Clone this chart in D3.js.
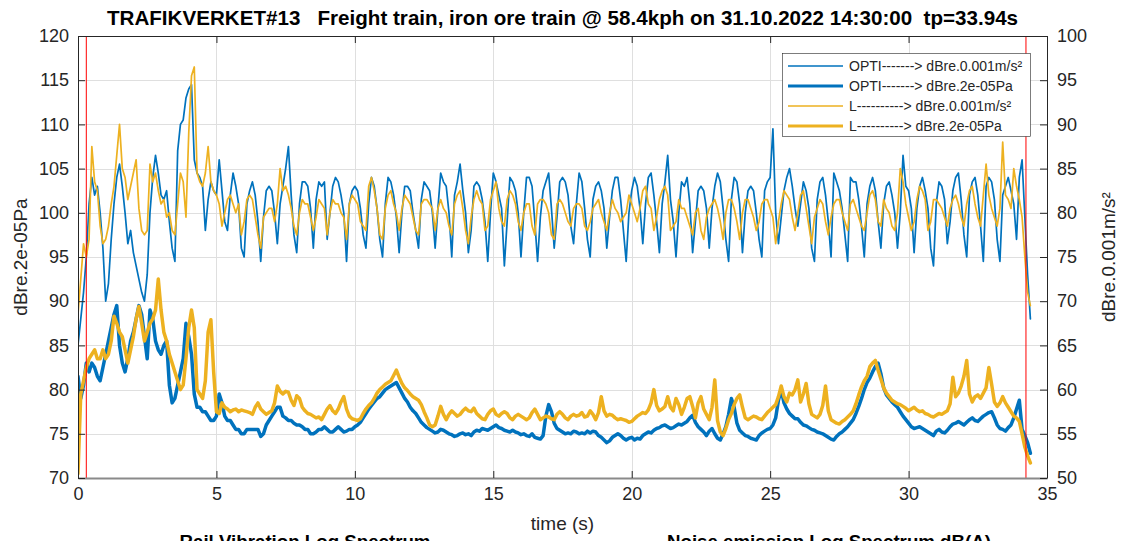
<!DOCTYPE html>
<html>
<head>
<meta charset="utf-8">
<script src="https://cdn.jsdelivr.net/npm/d3@7"></script>
<style>
  body { margin: 0; background: #fff; }
  text { font-family: "Liberation Sans", Arial, Helvetica, sans-serif; }
</style>
</head>
<body>
<svg id="chart" width="1124" height="541"></svg>
<script>
// Sampling interval of the level time histories (s)
const sampleStep = 0.1;

// OPTI rail vibration level, dB re 0.001 m/s² (right axis)
const vibOpti = [
  65, 68, 71, 75, 81, 84, 82, 83, 80, 76,
  70, 72, 77, 81, 84, 85.5, 83, 80, 76.5, 78,
  75.5, 74, 72.5, 71, 70, 73, 80, 84, 86.5, 84.5,
  82, 81.5, 82.5, 79, 76, 74.5, 87, 90, 90.5, 93,
  94, 94.5, 86, 84.5, 84, 83, 78, 81.5, 83.5, 82.5,
  82, 86, 82.5, 79, 78, 82, 84.5, 83, 81, 76,
  75, 81, 82.5, 83.5, 82, 79, 74.5, 79.5, 82.5, 83,
  82.5, 80, 76.5, 81, 83, 85, 87.5, 82, 77.5, 75.5,
  81, 83.5, 83.5, 83, 80.5, 76, 81.5, 83.5, 83, 83.5,
  77, 80, 83, 84, 83.5, 82, 80, 74.5, 81, 82.5,
  83, 82.5, 80.5, 77.5, 76, 81, 84, 83, 80.5, 77,
  75, 81, 84, 83.5, 82, 79.5, 75.5, 80, 83, 83,
  82.5, 80, 78, 76, 81.5, 83.5, 83, 82.5, 80, 76,
  80.5, 84.5, 83.5, 83, 80, 75, 82, 83.5, 85.5, 82.5,
  80, 75.5, 78, 83, 83.5, 83, 81.5, 79, 74.5, 80,
  84.5, 83.5, 82, 80.5, 74, 79, 84, 83.5, 82.5, 80,
  75, 80, 84, 84, 83, 79, 74.5, 79.5, 82.5, 83.5,
  84.5, 80.5, 76, 79.5, 83.5, 84, 83.5, 82, 78.5, 76.5,
  81, 84.5, 83.5, 80.5, 77, 75, 81.5, 83, 83.5, 82.5,
  80.5, 76, 79.5, 82.5, 84, 84, 81.5, 78, 74.5, 80,
  82.5, 84, 83, 80.5, 76.5, 81, 84, 84.5, 82, 79,
  75.5, 81, 83.5, 86.5, 81.5, 79, 75, 80, 83.5, 83,
  84, 81, 75.5, 79, 82.5, 83, 82.5, 80.5, 76, 80.5,
  83, 84.5, 83.5, 80.5, 77, 74.5, 81.5, 84, 83.5, 81,
  75.5, 80, 82.5, 83, 82.5, 80, 77, 75, 82.5, 83.5,
  84, 89.5, 80, 76.5, 79.5, 82.5, 84, 85, 83, 80.5,
  78.5, 81, 83.5, 82.5, 80.5, 76, 74.5, 81.5, 83.5, 84,
  82, 79, 75, 84.5, 83.5, 82.5, 80.5, 77.5, 74.5, 84,
  83.5, 83.5, 81.5, 78.5, 75, 81, 83, 84, 82.5, 79,
  76, 81, 83, 83.5, 82, 80, 76, 80, 86.5, 83,
  82.5, 80.5, 75.5, 80.5, 83, 84, 82.5, 80.5, 76, 74,
  81, 83.5, 83, 81.5, 76.5, 79, 82.5, 84, 84.5, 81.5,
  77.5, 75, 82, 83.5, 84, 82, 78.5, 74.5, 83, 84,
  83.5, 81.5, 77, 74.5, 82, 83, 84, 82.5, 81, 77,
  84, 86, 79.5, 73, 68
];

// OPTI noise level, dB re 2e-05 Pa (left axis)
const noiseOpti = [
  81.5, 79, 80.5, 83, 82, 83, 82.5, 81.5, 81, 82.5,
  84, 85.5, 87, 88.5, 89.5, 85, 83, 82, 83.5, 85.5,
  86.5, 88, 89.5, 88.5, 86, 83.5, 89, 88, 85.5, 84.5,
  84, 85, 85.5, 80.5, 78.5, 79, 80.5, 82, 83.5, 87.5,
  86, 84, 79.5, 78, 78, 77.5, 77.5, 77, 76.5, 76.5,
  77, 79.5, 78.5, 77, 76.5, 76.5, 76, 75.5, 75.5, 75,
  75, 75.5, 75.5, 75.5, 75.5, 75.5, 74.7, 75, 76, 76.5,
  77, 77.5, 78, 78, 77, 76.8, 76.5, 76.5, 76.2, 76,
  76, 75.8, 75.5, 75.5, 75, 75, 75.2, 75.5, 75.5, 75.8,
  75.5, 75.2, 75.2, 75.5, 75.8, 75.5, 75.2, 75.3, 75.5, 75.5,
  75.8, 76, 76.3, 76.8, 77.3, 77.8, 78.2, 78.6, 79, 79.2,
  79.6, 80, 80.2, 80.4, 80.6, 80.8, 80.2, 79.6, 79, 78.6,
  78, 77.6, 77.3, 76.8, 76.3, 76, 75.7, 75.5, 75.3, 75.1,
  75.2, 75.5, 75.4, 75.2, 75, 74.9, 74.7, 74.8, 75, 75.1,
  74.9, 75, 74.8, 75.2, 75.4, 75.3, 75.6, 75.5, 75.4, 75.6,
  75.8, 76, 75.7, 75.6, 75.4, 75.3, 75.2, 75.4, 75.2, 75.1,
  74.9, 75, 74.8, 74.7, 75, 74.6, 74.5, 74.4, 74.8, 77,
  78.3, 77.5, 76.2, 75.6, 75.4, 75.2, 75, 75.1, 75, 75.3,
  75.2, 75, 75.1, 75, 75.3, 75.1, 75.3, 75.2, 74.8, 74.6,
  74.3, 74, 74.2, 74.6, 74.8, 75, 74.8, 74.5, 74.3, 74.5,
  74.6, 74.3, 74.5, 74.4, 74.8, 75, 75.2, 75.1, 75.4, 75.6,
  75.7, 75.9, 76, 75.8, 75.6, 75.7, 75.9, 76.1, 76, 76.2,
  76.4, 76.8, 77.1, 76.3, 75.8, 75.5, 75.2, 74.8, 75.3, 75.6,
  75, 74.5, 74.3, 75, 75.8, 77.2, 79, 78, 76.2, 75.4,
  75.1, 74.8, 74.7, 74.5, 74.4, 74.3, 74.8, 75.1, 75.3, 75.5,
  75.6, 76, 76.8, 78.8, 80, 78.5, 77.8, 77.3, 77, 76.7,
  76.7, 76.3, 76, 75.9, 75.7, 75.5, 75.4, 75.2, 75.1, 75,
  74.8, 74.6, 74.4, 74.3, 74.7, 75, 75.2, 75.5, 75.8, 76.2,
  76.6, 77.3, 78.1, 79, 80, 80.8, 81.3, 82, 82.6, 83,
  81.8, 80.2, 79.4, 79, 78.6, 78.3, 78, 77.5, 77, 76.6,
  76.2, 75.8, 75.6, 75.7, 75.8, 75.6, 75.4, 75.2, 75, 74.8,
  75.3, 75.5, 75.2, 75.1, 75.4, 75.8, 76.1, 76.2, 76.4, 76.2,
  76, 76.3, 76.6, 76.8, 76.5, 76.4, 76.7, 77, 77.2, 77.4,
  77.5, 76.8, 76, 75.6, 75.5, 75.3, 75.7, 76, 76.8, 77.8,
  78.8, 75.5, 74.8, 74, 72.8
];

// L rail vibration level, dB re 0.001 m/s² (right axis)
const vibL = [
  68.5, 72.5, 76.5, 75, 77, 87.5, 83.5, 82.5, 78.5, 76.5,
  77, 78.5, 81, 83, 86.5, 90, 85, 84, 81.5, 83,
  84.5, 86, 80.5, 78, 77.5, 78, 85.5, 83.5, 84.5, 82.5,
  81, 81.5, 79.5, 80, 78, 77.5, 81, 84.5, 83.5, 79.5,
  89, 95.5, 96.5, 84.5, 83.5, 83, 84.5, 87.5, 83.5, 82.5,
  82, 81, 78.5, 80, 81.5, 82, 81, 80, 81, 77.5,
  79, 81.5, 82, 81.5, 79.5, 77.5, 76, 79.5, 80, 80.5,
  80.5, 79, 81, 85, 82.5, 83, 82, 80.5, 78.5, 77.5,
  80, 81.5, 81, 81, 79.5, 78, 79.5, 81.5, 81, 80.5,
  77.5, 80, 81.5, 81, 81, 80, 79.5, 77, 81, 82,
  81.5, 81, 79, 78.5, 78, 83, 84, 82.5, 80.5, 77.5,
  77, 80.5, 82, 82.5, 81, 80, 78, 80.5, 82, 81.5,
  81, 79.5, 78, 77.5, 81, 81.5, 81.5, 81, 80.5, 78,
  80.5, 81.5, 80.5, 80, 78.5, 77.5, 81, 82, 82.5, 80.5,
  78, 76.5, 79.5, 81.5, 82.5, 81.5, 81, 78, 78.5, 81.5,
  82.5, 83.5, 80.5, 79, 78.5, 81.5, 82.5, 82, 81, 79,
  78, 80, 81, 81, 78.5, 77.5, 81, 81.5, 81.5, 81,
  80, 77.5, 77, 81, 81.5, 81, 80, 79, 78.5, 80.5,
  81, 81, 80.5, 78.5, 78, 79, 80.5, 81, 81.5, 80,
  79, 78, 80, 81.5, 80.5, 80, 79, 79.5, 80, 82,
  81, 80, 79, 80.5, 82.5, 83, 81, 80.5, 78, 79.5,
  81.5, 82.5, 83, 82, 78, 78.5, 79, 81.5, 80.5, 80.5,
  79.5, 78.5, 77.5, 80, 80.5, 78, 77, 79.5, 80.5, 81,
  81.5, 80.5, 79, 77, 80, 81.5, 81.5, 80.5, 79, 77,
  80, 81.5, 81.5, 80.5, 79.5, 78, 79, 81, 81.5, 81.5,
  80.5, 79.5, 76.5, 79, 81, 82.5, 82, 81.5, 79.5, 78,
  80, 82, 82.5, 80.5, 78.5, 76.5, 79.5, 80.5, 81.5, 81,
  79, 77.5, 79.5, 81, 81.5, 81.5, 80, 79, 78, 81,
  81.5, 80.5, 79.5, 78.5, 78, 80, 82, 82.5, 81.5, 79,
  78.5, 81.5, 80.5, 80, 78.5, 78, 80, 85, 83.5, 81,
  79.5, 78, 79, 81.5, 83, 82.5, 81.5, 78, 79, 81.5,
  81.5, 81, 80.5, 79.5, 78.5, 80.5, 81.5, 82, 81, 79.5,
  78.5, 81, 82.5, 83, 81, 79.5, 78.5, 82, 85.5, 82,
  80.5, 79.5, 78.5, 80.5, 88, 82, 81.5, 80.5, 85, 83,
  81.5, 79.5, 75, 71, 69.5
];

// L noise level, dB re 2e-05 Pa (left axis)
const noiseL = [
  70.5, 79.5, 81, 82.5, 83.5, 84, 84.5, 83.5, 83.5, 84.5,
  83.5, 84, 85.5, 88.3, 87.5, 86.5, 86, 84.5, 83, 84.5,
  86, 88, 89.4, 87.5, 85.5, 86.5, 87.5, 88, 89, 92.5,
  89, 86.5, 85.5, 84, 83, 82, 81, 80, 80.5, 83.5,
  87, 89, 87, 80, 79.5, 79, 81, 86.5, 87.9, 82,
  77.5, 77.3, 78.5, 78, 77.8, 77.5, 77.7, 77.8, 77.5, 77.7,
  77.6, 77.5, 77.4, 77.2, 78, 78.5, 77.8, 77.5, 77.2, 77.4,
  77.6, 78.5, 80.4, 79.8, 79.5, 79.8, 79.7, 78.8, 78.2, 79.3,
  79, 78, 77.6, 77.3, 77.2, 77, 76.8, 76.9, 76.6, 77.2,
  77.8, 78.2, 77.6, 77.3, 77.8, 78.6, 79.2, 77.8, 77, 76.7,
  76.6, 76.5, 76.7, 77.3, 77.8, 78.2, 78.5, 79, 79.6, 80,
  80.3, 80.6, 80.8, 81, 81.6, 82.2, 81.4, 80.7, 80.2, 79.9,
  79.5, 79.2, 79, 78.8, 78.3, 77.5, 76.8, 76, 75.8, 76,
  77, 78.1, 77.2, 76.6, 77.2, 77.6, 77.3, 77, 77.2, 77.6,
  77.9, 77.6, 77.5, 77.9, 77.3, 77, 76.7, 76.6, 77.2, 77.6,
  77.8, 77.2, 77, 77.3, 77.5, 77.3, 76.8, 76.6, 77, 77.2,
  77, 76.8, 76.6, 76.8, 77.4, 77.8, 77.2, 76.6, 76.8, 77,
  76.9, 76.7, 76.6, 77.2, 77.5, 77.2, 76.8, 76.6, 77, 77.2,
  77, 77.1, 77.4, 76.9, 77, 77.6, 77.2, 76.6, 77.4, 79.2,
  77.6, 77, 77.2, 77.1, 76.8, 76.6, 76.7, 76.6, 76.5, 76.3,
  76.4, 76.7, 77, 77.2, 77.4, 77.3, 77.7, 78.5, 80, 78.2,
  77.6, 77.8, 78.1, 79.2, 78, 77.6, 79, 78.3, 77.2, 78,
  79, 79.2, 78.1, 76.8, 78.5, 79.2, 77.8, 77.2, 76.6, 78,
  81.1, 76.5, 75.2, 74.8, 75.6, 76.6, 77.3, 78.3, 79, 79.4,
  78, 76.8, 76.6, 76.8, 77, 76.9, 76.7, 76.6, 77, 77.4,
  77.7, 78, 78.3, 79.2, 80.4, 79.2, 78.6, 79.6, 79.4, 80,
  81.1, 78.6, 79.5, 80.7, 78.4, 77.2, 77, 76.8, 77.2, 78.2,
  80.4, 77.6, 76.6, 76.4, 76.2, 76.1, 76.4, 76.6, 76.9, 77.2,
  77.6, 78.4, 79.4, 80.3, 81, 81.5, 82.6, 83, 83.3, 82.2,
  81.2, 80.2, 79.6, 79.2, 78.8, 78.6, 78.4, 78.3, 78.1, 77.9,
  77.6, 77.8, 78, 77.7, 77.5, 77.6, 77.3, 77.2, 77, 76.9,
  77.1, 77.3, 77.2, 77.4, 77.6, 78.4, 81.4, 79.2, 79.6, 80.4,
  81.5, 83.3, 79.5, 78.6, 79.2, 79.4, 79, 79.6, 80.2, 82.5,
  80.6, 78.6, 78.1, 78.5, 79.2, 78.5, 78, 77.5, 77, 76.8,
  76.4, 75, 73.5, 72.5, 71.7
];

// Axis ticks
const timeTicks = [0, 5, 10, 15, 20, 25, 30, 35];
const noiseTicks = [70, 75, 80, 85, 90, 95, 100, 105, 110, 115, 120];
const vibTicks = [50, 55, 60, 65, 70, 75, 80, 85, 90, 95, 100];

// Pass window markers (s)
const passMarkers = [0.30, 34.24];

// Texts
const titleText = "TRAFIKVERKET#13   Freight train, iron ore train @ 58.4kph on 31.10.2022 14:30:00  tp=33.94s";
const legendLabels = [
  "OPTI-------> dBre.0.001m/s\u00B2",
  "OPTI-------> dBre.2e-05Pa",
  "L----------> dBre.0.001m/s\u00B2",
  "L----------> dBre.2e-05Pa"
];
const nextPanelTitles = ["Rail Vibration Log Spectrum", "Noise emission Log Spectrum dB(A)"];

// ---------- layout ----------
const svg = d3.select("#chart");
const plot = { left: 78, right: 1047, top: 36, bottom: 478 };
const BLUE = "#0072BD", GOLD = "#EDB120", AXIS = "#262626", GRID = "#dfdfdf";

const x = d3.scaleLinear().domain([0, 35]).range([plot.left, plot.right]);
const yLeft = d3.scaleLinear().domain([70, 120]).range([plot.bottom, plot.top]);
const yRight = d3.scaleLinear().domain([50, 100]).range([plot.bottom, plot.top]);

svg.append("rect").attr("width", 1124).attr("height", 541).attr("fill", "#fff");

// grid
const grid = svg.append("g").attr("stroke", GRID).attr("stroke-width", 1);
grid.selectAll("line.v").data(timeTicks.slice(1, -1)).join("line")
  .attr("x1", d => Math.round(x(d)) + 0.5).attr("x2", d => Math.round(x(d)) + 0.5)
  .attr("y1", plot.top).attr("y2", plot.bottom);
grid.selectAll("line.h").data(noiseTicks.slice(1, -1)).join("line")
  .attr("y1", d => Math.round(yLeft(d)) + 0.5).attr("y2", d => Math.round(yLeft(d)) + 0.5)
  .attr("x1", plot.left).attr("x2", plot.right);

// series
const series = [
  { values: vibOpti,   scale: yRight, color: BLUE, width: 1.7, legendWidth: 1.4, label: legendLabels[0] },
  { values: noiseOpti, scale: yLeft,  color: BLUE, width: 3.5, legendWidth: 3.2, label: legendLabels[1] },
  { values: vibL,      scale: yRight, color: GOLD, width: 1.7, legendWidth: 1.4, label: legendLabels[2] },
  { values: noiseL,    scale: yLeft,  color: GOLD, width: 3.5, legendWidth: 3.2, label: legendLabels[3] }
];

svg.append("clipPath").attr("id", "plotClip").append("rect")
  .attr("x", plot.left).attr("y", plot.top)
  .attr("width", plot.right - plot.left).attr("height", plot.bottom - plot.top);

const lines = svg.append("g").attr("clip-path", "url(#plotClip)");
series.forEach(s => {
  const gen = d3.line().x((d, i) => x(i * sampleStep)).y(d => s.scale(d));
  lines.append("path").attr("d", gen(s.values))
    .attr("fill", "none").attr("stroke", s.color).attr("stroke-width", s.width)
    .attr("stroke-linejoin", "round").attr("stroke-linecap", "round");
});

// pass window markers
svg.append("g").selectAll("line").data(passMarkers).join("line")
  .attr("x1", d => x(d)).attr("x2", d => x(d))
  .attr("y1", plot.top).attr("y2", plot.bottom)
  .attr("stroke", "#ff0000").attr("stroke-width", 1);

// axes
const tickFont = 18;
function styleAxis(g, lineColor, lineWidth) {
  g.selectAll(".domain").attr("stroke", lineColor).attr("stroke-width", lineWidth);
  g.selectAll(".tick line").attr("stroke", AXIS).attr("stroke-width", 1);
  g.selectAll(".tick text").attr("fill", AXIS).attr("font-size", tickFont)
    .attr("font-family", "'Liberation Sans', Arial, sans-serif");
}

const gBottom = svg.append("g").attr("transform", `translate(0,${plot.bottom})`)
  .call(d3.axisBottom(x).tickValues(timeTicks).tickFormat(d3.format("d"))
    .tickSizeInner(-7).tickSizeOuter(0).tickPadding(9));
styleAxis(gBottom, "#8a8a8a", 2);

const gTop = svg.append("g").attr("transform", `translate(0,${plot.top})`)
  .call(d3.axisTop(x).tickValues(timeTicks).tickFormat("")
    .tickSizeInner(-7).tickSizeOuter(0));
styleAxis(gTop, AXIS, 1);

const gLeft = svg.append("g").attr("transform", `translate(${plot.left},0)`)
  .call(d3.axisLeft(yLeft).tickValues(noiseTicks).tickFormat(d3.format("d"))
    .tickSizeInner(-7).tickSizeOuter(0).tickPadding(9));
styleAxis(gLeft, AXIS, 1);

const gRight = svg.append("g").attr("transform", `translate(${plot.right},0)`)
  .call(d3.axisRight(yRight).tickValues(vibTicks).tickFormat(d3.format("d"))
    .tickSizeInner(-7).tickSizeOuter(0).tickPadding(10));
styleAxis(gRight, AXIS, 1);

// axis titles
svg.append("text").attr("x", (plot.left + plot.right) / 2).attr("y", 530)
  .attr("text-anchor", "middle").attr("font-size", 19).attr("fill", AXIS).text("time (s)");

svg.append("text").attr("transform", `translate(27,${(plot.top + plot.bottom) / 2}) rotate(-90)`)
  .attr("text-anchor", "middle").attr("font-size", 19).attr("fill", AXIS).text("dBre.2e-05Pa");

svg.append("text").attr("transform", `translate(1115,${(plot.top + plot.bottom) / 2}) rotate(-90)`)
  .attr("text-anchor", "middle").attr("font-size", 19).attr("fill", AXIS).text("dBre.0.001m/s\u00B2");

// title
svg.append("text").attr("x", (plot.left + plot.right) / 2).attr("y", 25)
  .attr("text-anchor", "middle").attr("font-size", 20.6).attr("font-weight", "bold")
  .attr("fill", "#000").style("white-space", "pre").text(titleText);

// titles of the panels below, running off the page edge
svg.append("text").attr("x", 305).attr("y", 548).attr("text-anchor", "middle")
  .attr("font-size", 18.7).attr("font-weight", "bold").attr("fill", "#000").text(nextPanelTitles[0]);
svg.append("text").attr("x", 829).attr("y", 548).attr("text-anchor", "middle")
  .attr("font-size", 18.7).attr("font-weight", "bold").attr("fill", "#000").text(nextPanelTitles[1]);

// legend
const legend = svg.append("g");
const lg = { x: 782.5, y: 53.5, w: 248, h: 83 };
legend.append("rect").attr("x", lg.x).attr("y", lg.y).attr("width", lg.w).attr("height", lg.h)
  .attr("fill", "#fff").attr("stroke", "#262626").attr("stroke-width", 0.6);
series.forEach((s, i) => {
  const cy = 66 + i * 20;
  legend.append("line").attr("x1", 788).attr("x2", 843).attr("y1", cy).attr("y2", cy)
    .attr("stroke", s.color).attr("stroke-width", s.legendWidth);
  legend.append("text").attr("x", 849).attr("y", cy).attr("dy", "0.35em")
    .attr("font-size", 14).attr("fill", AXIS).style("white-space", "pre").text(s.label);
});
</script>
</body>
</html>
